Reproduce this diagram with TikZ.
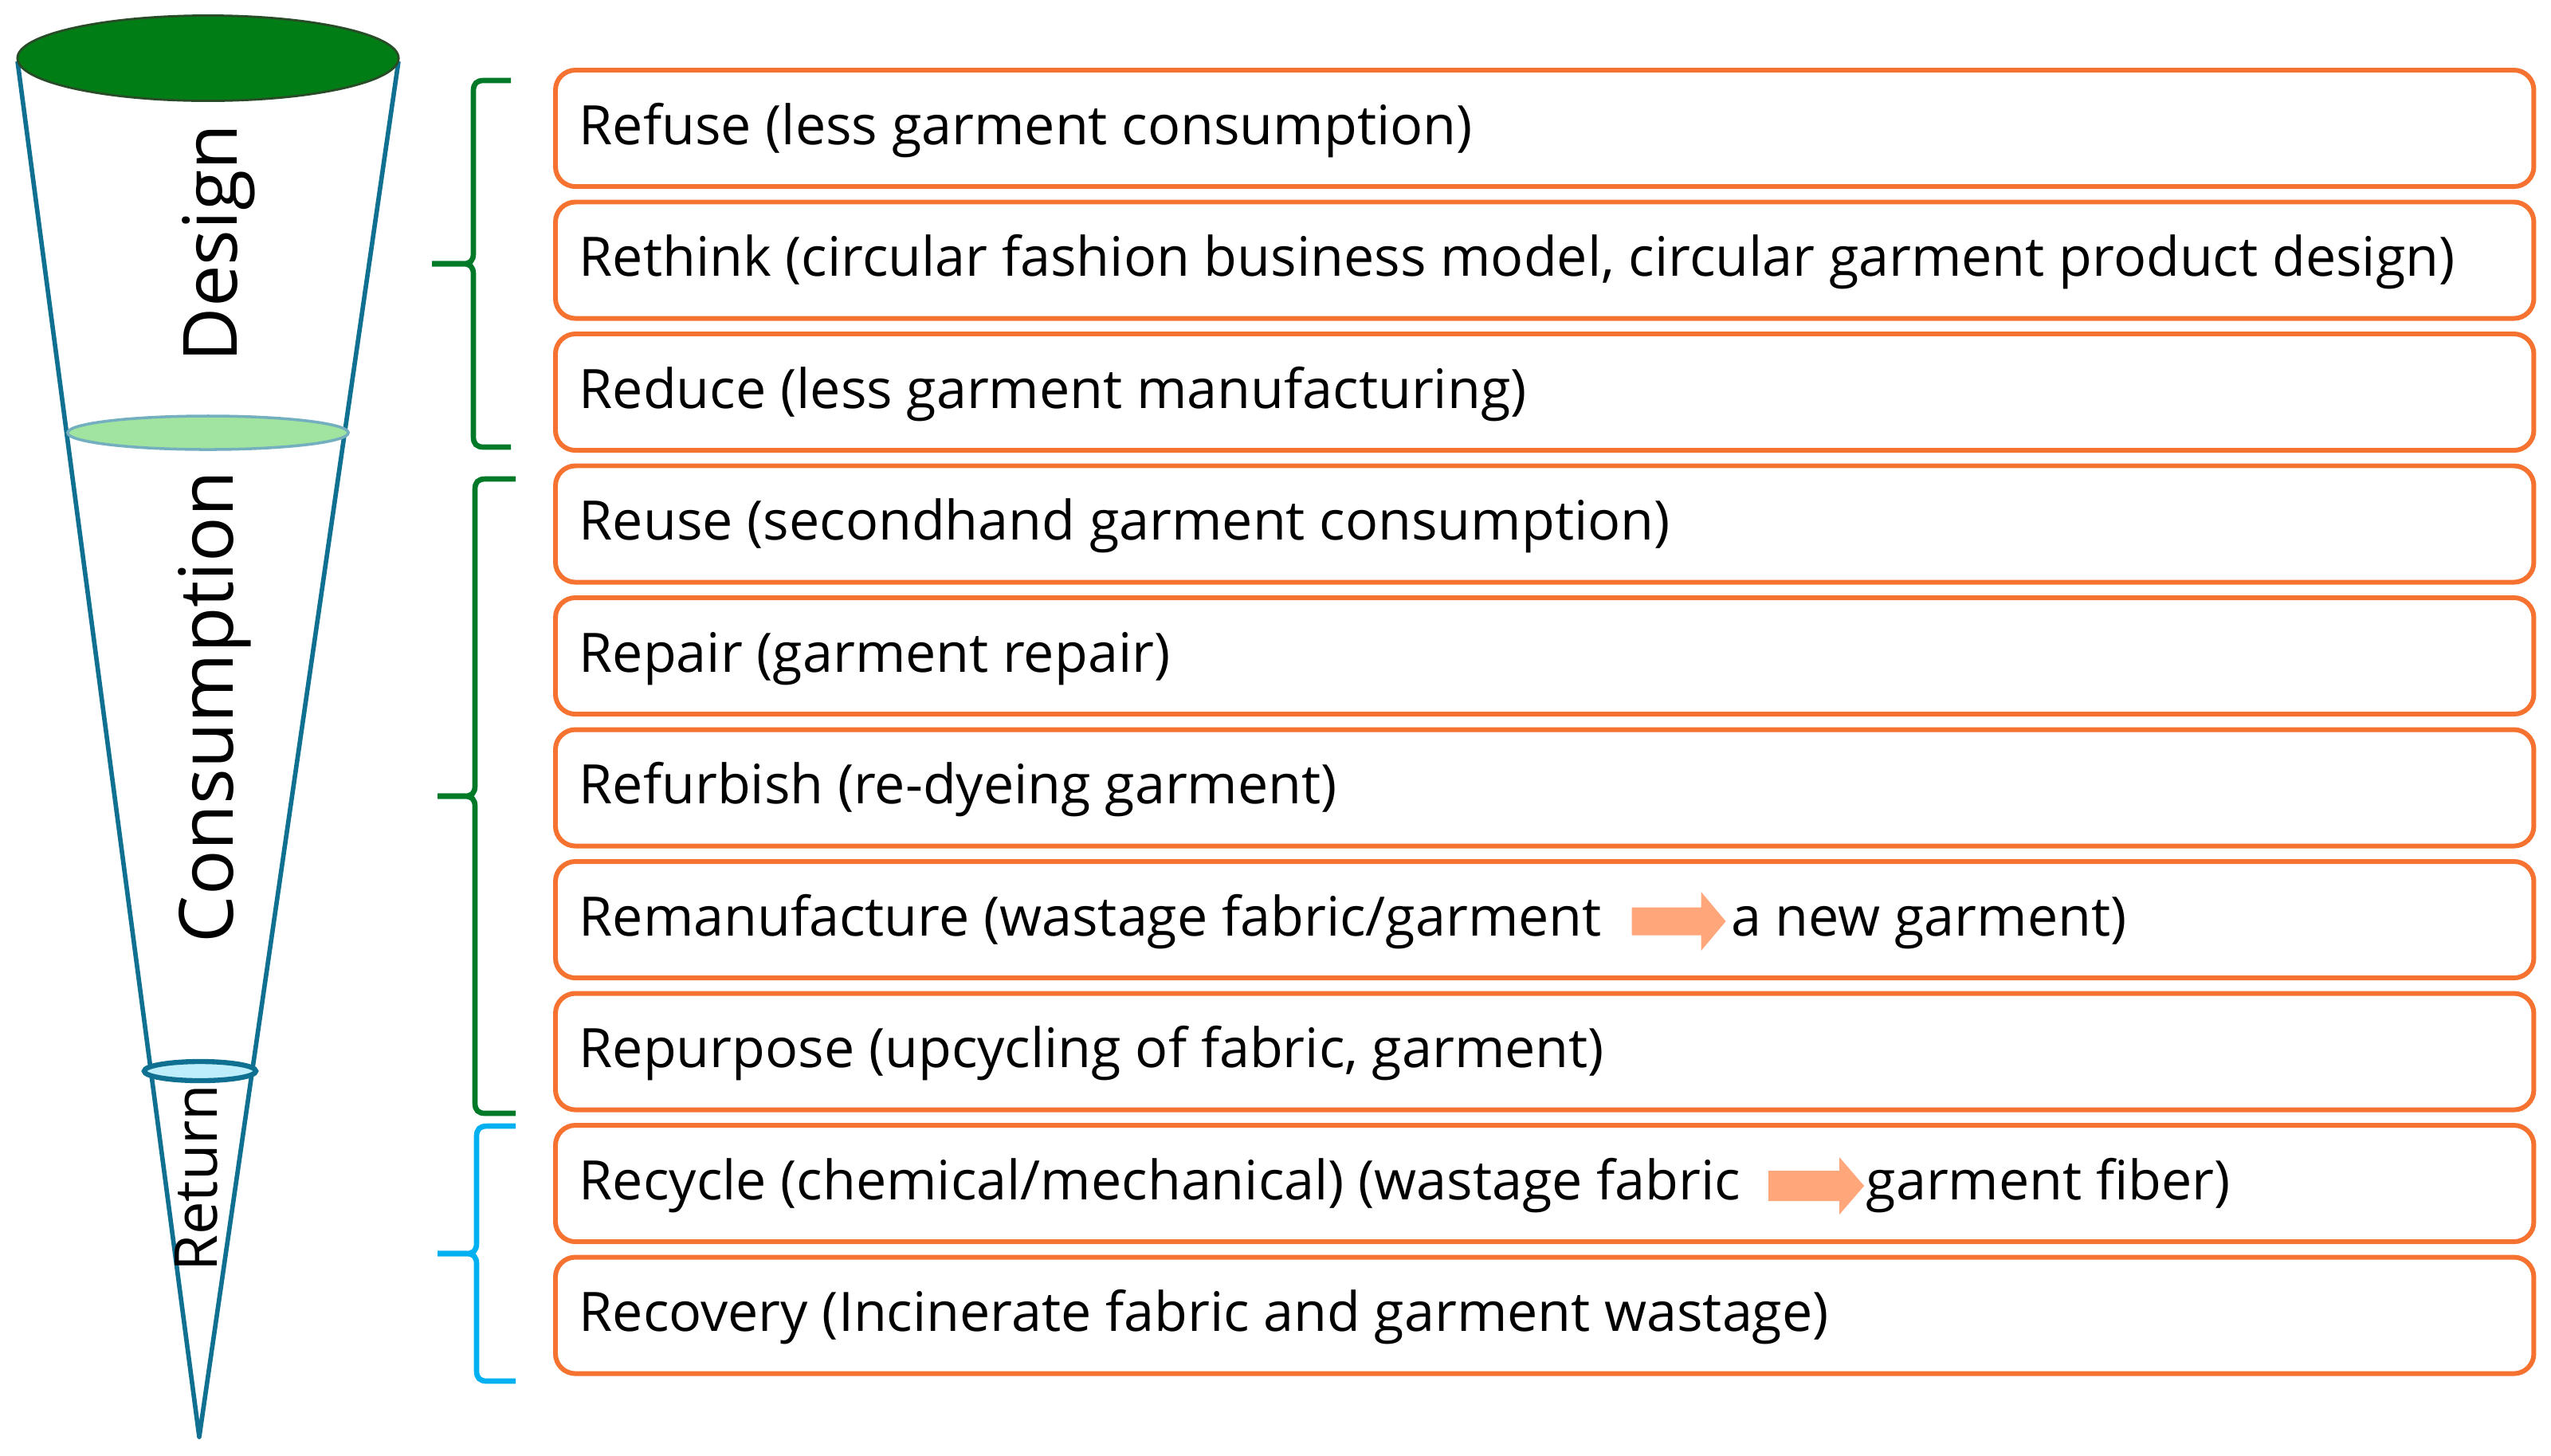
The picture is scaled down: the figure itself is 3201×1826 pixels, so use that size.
\documentclass[tikz,border=0pt]{standalone}
\usepackage{fontspec}
\setmainfont{Open Sans}
\usetikzlibrary{calc}
\definecolor{boxorange}{RGB}{245,114,48}
\definecolor{arrowfill}{RGB}{255,166,122}
\definecolor{darkgreen}{RGB}{0,125,20}
\definecolor{darkgreenedge}{RGB}{40,75,40}
\definecolor{lightgreen}{RGB}{160,228,160}
\definecolor{lightgreenedge}{RGB}{115,175,190}
\definecolor{coneteal}{RGB}{15,112,145}
\definecolor{lightcyan}{RGB}{190,238,252}
\definecolor{bracegreen}{RGB}{0,122,40}
\definecolor{bracecyan}{RGB}{0,176,240}
\newcommand\BraceShape[6]{% #1 style, #2 x of vertical, #3 top, #4 bottom, #5 tip x, #6 end x
  \draw[#1] (#6,#3) -- ({#2+13},#3) .. controls ({#2+4},#3) and (#2,{#3+4}) .. (#2,{#3+13})
    -- (#2,{(#3+#4)/2-13}) .. controls (#2,{(#3+#4)/2-4}) and ({#2-4},{(#3+#4)/2}) .. ({#2-13},{(#3+#4)/2})
    -- (#5,{(#3+#4)/2});
  \draw[#1] (#5,{(#3+#4)/2}) -- ({#2-13},{(#3+#4)/2}) .. controls ({#2-4},{(#3+#4)/2}) and (#2,{(#3+#4)/2+4}) .. (#2,{(#3+#4)/2+13})
    -- (#2,{#4-13}) .. controls (#2,{#4-4}) and ({#2+4},#4) .. ({#2+13},#4) -- (#6,#4);
}
\begin{document}
\begin{tikzpicture}[x=0.01cm,y=-0.01cm,
  rbox/.style={draw=boxorange, line width=1.7pt, rounded corners=0.25cm, fill=white,
    minimum width=24.81cm, minimum height=1.46cm, anchor=north west, inner sep=0pt},
  lbl/.style={inner sep=0pt, anchor=base west, font=\fontsize{19.4pt}{23pt}\selectfont},
  conelbl/.style={inner sep=0pt, anchor=base, rotate=90, font=\fontsize{26.7pt}{32pt}\selectfont},
  retlbl/.style={inner sep=0pt, anchor=base, rotate=90, font=\fontsize{21.1pt}{25pt}\selectfont},
  cone/.style={draw=coneteal, line width=1.6pt, line join=round},
  gbrace/.style={draw=bracegreen, line width=1.9pt, line cap=butt},
  cbrace/.style={draw=bracecyan, line width=1.9pt, line cap=butt},
  arrowshape/.style={fill=arrowfill, draw=none}
]
\useasboundingbox (0,0) rectangle (3201,1826);
\fill[white] (0,0) rectangle (3201,1826);

% cone
\draw[cone] (22,77) -- (250,1803) -- (500,77);
\draw[fill=darkgreen, draw=darkgreenedge, line width=0.8pt] (261,73) ellipse [x radius=2.39cm, y radius=0.535cm];
\draw[fill=lightgreen, draw=lightgreenedge, line width=1pt] (261,543) ellipse [x radius=1.76cm, y radius=0.21cm];
\draw[fill=lightcyan, draw=coneteal, line width=1.8pt] (251,1344) ellipse [x radius=0.70cm, y radius=0.12cm];

\node[conelbl] (design) at (297,305) {Design};
\node[conelbl] (consumption) at (292,887) {Consumption};
\node[retlbl] (return) at (272,1478) {Return};

% braces
\BraceShape{gbrace}{594}{101}{561}{542}{641}
\BraceShape{gbrace}{596}{601}{1397}{549}{647}
\BraceShape{cbrace}{598}{1413}{1733}{549}{647}

% boxes
\foreach \i in {1,...,10}
  \node[rbox] (b\i) at (694,{85+165.5*(\i-1)}) {};

\node[lbl] (t1) at ($(b1.west)+(32,20)$) {Refuse (less garment consumption)};
\node[lbl] (t2) at ($(b2.west)+(32,20)$) {Rethink (circular fashion business model, circular garment product design)};
\node[lbl] (t3) at ($(b3.west)+(32,20)$) {Reduce (less garment manufacturing)};
\node[lbl] (t4) at ($(b4.west)+(32,20)$) {Reuse (secondhand garment consumption)};
\node[lbl] (t5) at ($(b5.west)+(32,20)$) {Repair (garment repair)};
\node[lbl] (t6) at ($(b6.west)+(32,20)$) {Refurbish (re-dyeing garment)};
\node[lbl] (t7a) at ($(b7.west)+(32,20)$) {Remanufacture (wastage fabric/garment};
\node[lbl] (t8) at ($(b8.west)+(32,20)$) {Repurpose (upcycling of fabric, garment)};
\node[lbl] (t9a) at ($(b9.west)+(32,20)$) {Recycle (chemical/mechanical) (wastage fabric};
\node[lbl] (t10) at ($(b10.west)+(32,20)$) {Recovery (Incinerate fabric and garment wastage)};

% inline arrows
\coordinate (a7) at ($(t7a.base east)+(37,-18)$);
\fill[arrowshape] (a7) ++(0,-17.5) -- ++(87,0) -- ++(0,-19.5) -- ++(31,37) -- ++(-31,37) -- ++(0,-19.5) -- ++(-87,0) -- cycle;
\node[lbl] (t7b) at ($(a7)+(124,18)$) {a new garment)};

\coordinate (a9) at ($(t9a.base east)+(34,-17)$);
\fill[arrowshape] (a9) ++(0,-19) -- ++(89,0) -- ++(0,-17) -- ++(31,36) -- ++(-31,36) -- ++(0,-17) -- ++(-89,0) -- cycle;
\node[lbl] (t9b) at ($(a9)+(122,17)$) {garment fiber)};
\end{tikzpicture}
\end{document}
